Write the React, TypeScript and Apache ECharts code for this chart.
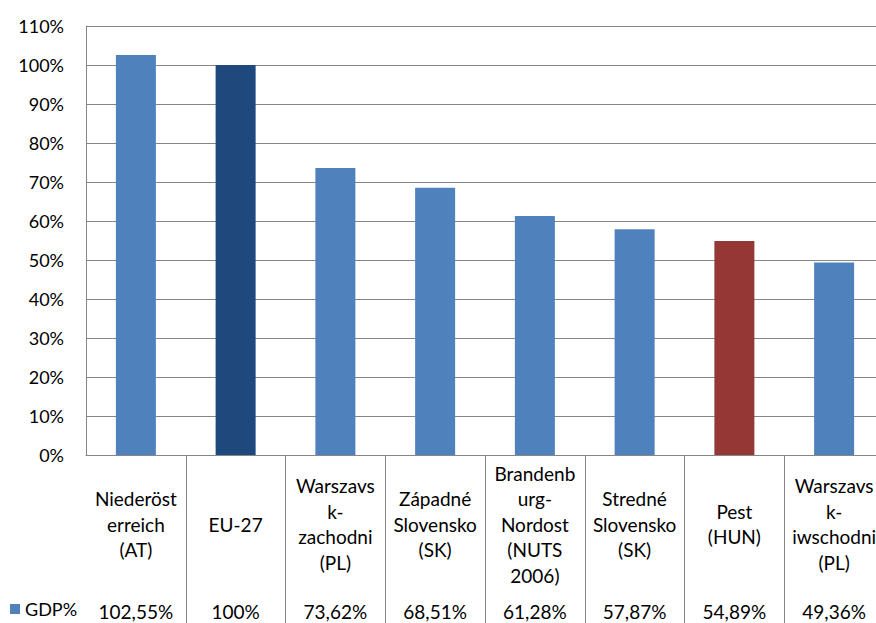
import React, { useEffect, useRef } from "react";
import * as echarts from "echarts";

const categories: string[] = [
  "Niederöst\nerreich\n(AT)",
  "EU-27",
  "Warszavs\nk-\nzachodni\n(PL)",
  "Západné\nSlovensko\n(SK)",
  "Brandenb\nurg-\nNordost\n(NUTS\n2006)",
  "Stredné\nSlovensko\n(SK)",
  "Pest\n(HUN)",
  "Warszavs\nk-\niwschodni\n(PL)",
];
const gdpValues: number[] = [102.55, 100, 73.62, 68.51, 61.28, 57.87, 54.89, 49.36];
const seriesName = "GDP%";
const yTicks = { min: 0, max: 110, interval: 10 };

const BLUE = "#4F81BD";
const DARK_BLUE = "#1F497D";
const RED = "#953735";
const barColors: string[] = [BLUE, DARK_BLUE, BLUE, BLUE, BLUE, BLUE, RED, BLUE];

const FONT = "Lato";

export default function App() {
  const ref = useRef<HTMLDivElement>(null);
  useEffect(() => {
    if (!ref.current) return;
    const chart = echarts.init(ref.current, null, { renderer: "svg" });
    const valueLabels = gdpValues.map((v) => String(v).replace(".", ",") + "%");
    chart.setOption({
      animation: false,
      backgroundColor: "#ffffff",
      textStyle: { fontFamily: FONT, color: "#000" },
      legend: {
        data: [seriesName],
        left: 10,
        top: 600,
        padding: 0,
        icon: "rect",
        itemWidth: 10,
        itemHeight: 10,
        itemGap: 5,
        selectedMode: false,
        textStyle: { fontFamily: FONT, fontSize: 18, color: "#000", padding: [0, 0, 0, 0] },
      },
      grid: {
        left: 86,
        top: 26,
        width: 798,
        height: 429,
        containLabel: false,
        outerBoundsMode: "none",
      },
      xAxis: [
        {
          type: "category",
          data: categories,
          position: "bottom",
          axisLine: { show: true, lineStyle: { color: "#868686", width: 1 } },
          axisTick: {
            show: true,
            length: 170,
            interval: (index: number) => index !== 0,
            lineStyle: { color: "#868686", width: 1 },
          },
          axisLabel: {
            interval: 0,
            margin: 69,
            verticalAlign: "middle",
            lineHeight: 25.5,
            fontFamily: FONT,
            fontSize: 19,
            color: "#000",
          },
          splitLine: { show: false },
        },
        {
          type: "category",
          data: valueLabels,
          position: "bottom",
          axisLine: { show: false },
          axisTick: { show: false },
          axisLabel: {
            interval: 0,
            margin: 156,
            verticalAlign: "middle",
            fontFamily: FONT,
            fontSize: 19,
            color: "#000",
          },
          splitLine: { show: false },
        },
      ],
      yAxis: {
        type: "value",
        min: yTicks.min,
        max: yTicks.max,
        interval: yTicks.interval,
        axisLine: { show: true, lineStyle: { color: "#868686", width: 1 } },
        axisTick: { show: false },
        axisLabel: {
          margin: 22,
          formatter: "{value}%",
          fontFamily: FONT,
          fontSize: 18,
          color: "#000",
        },
        splitLine: { show: true, lineStyle: { color: "#868686", width: 1 } },
      },
      series: [
        {
          name: seriesName,
          type: "bar",
          xAxisIndex: 0,
          barWidth: 40,
          itemStyle: { color: BLUE },
          data: gdpValues.map((v, i) => ({ value: v, itemStyle: { color: barColors[i] } })),
        },
      ],
    });
    return () => chart.dispose();
  }, []);
  return (
    <div
      ref={ref}
      style={{ position: "fixed", left: 0, top: 0, width: 876, height: 623 }}
    />
  );
}
